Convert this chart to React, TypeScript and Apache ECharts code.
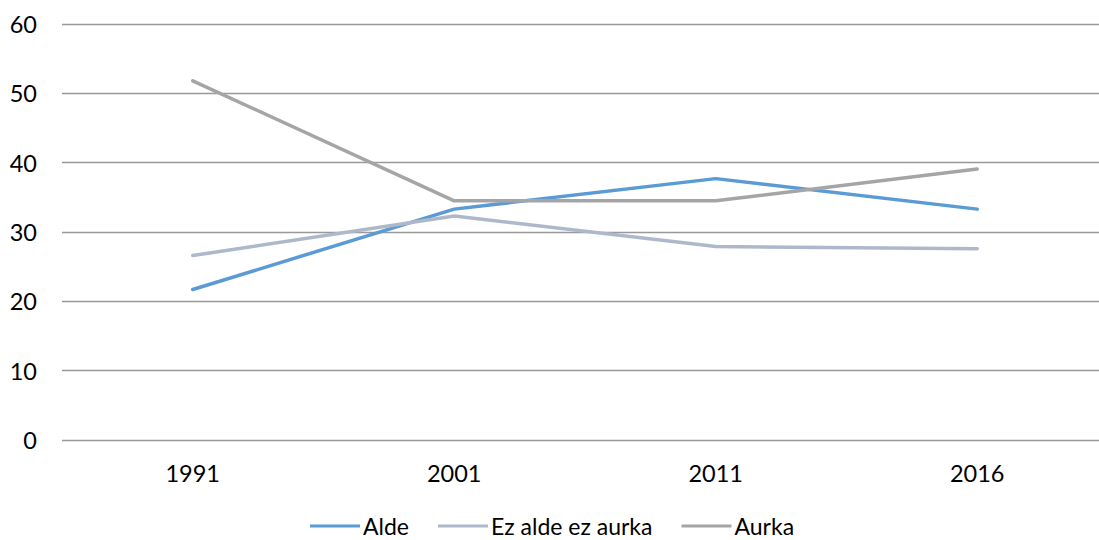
import React, { useEffect, useRef } from "react";
import * as echarts from "echarts";

const years = ["1991", "2001", "2011", "2016"];
const alde = [21.7, 33.3, 37.7, 33.3];
const ezAldeEzAurka = [26.6, 32.3, 27.9, 27.6];
const aurka = [51.8, 34.5, 34.5, 39.1];

const FONT = "Lato, 'Open Sans', sans-serif";

export default function App() {
  const ref = useRef<HTMLDivElement>(null);
  useEffect(() => {
    if (!ref.current) return;
    const chart = echarts.init(ref.current, undefined, { renderer: "svg" });
    const mk = (name: string, data: number[], color: string) => ({
      name,
      type: "line",
      data,
      symbol: "none",
      lineStyle: { color, width: 3.5, cap: "round", join: "round" },
      itemStyle: { color },
    });
    chart.setOption({
      animation: false,
      textStyle: { fontFamily: FONT },
      grid: { left: 62, top: 24, width: 1046, height: 416, containLabel: false, outerBoundsMode: "none" },
      legend: {
        left: 310,
        top: 514,
        padding: 0,
        icon: "rect",
        itemWidth: 50,
        itemHeight: 3,
        itemGap: 29,
        textStyle: { fontSize: 23, lineHeight: 24, color: "#000", fontFamily: FONT, padding: [0, 0, 0, -2] },
        data: ["Alde", "Ez alde ez aurka", "Aurka"],
      },
      xAxis: {
        type: "category",
        data: years,
        boundaryGap: true,
        axisLine: { show: false },
        axisTick: { show: false },
        axisLabel: { fontSize: 23.5, color: "#000", margin: 21, fontFamily: FONT },
      },
      yAxis: {
        type: "value",
        min: 0,
        max: 60,
        interval: 10,
        axisLine: { show: false },
        axisTick: { show: false },
        axisLabel: { fontSize: 23.5, color: "#000", margin: 25, fontFamily: FONT },
        splitLine: { lineStyle: { color: "#999999", width: 1.3 } },
      },
      series: [
        mk("Alde", alde, "#5B9BD5"),
        mk("Ez alde ez aurka", ezAldeEzAurka, "#ADB9CA"),
        mk("Aurka", aurka, "#A5A5A5"),
      ],
    });
    return () => chart.dispose();
  }, []);
  return (
    <div style={{ position: "absolute", left: 0, top: 0, width: 1099, height: 540, overflow: "hidden", background: "#fff" }}>
      <div ref={ref} style={{ width: 1099, height: 540 }} />
    </div>
  );
}
